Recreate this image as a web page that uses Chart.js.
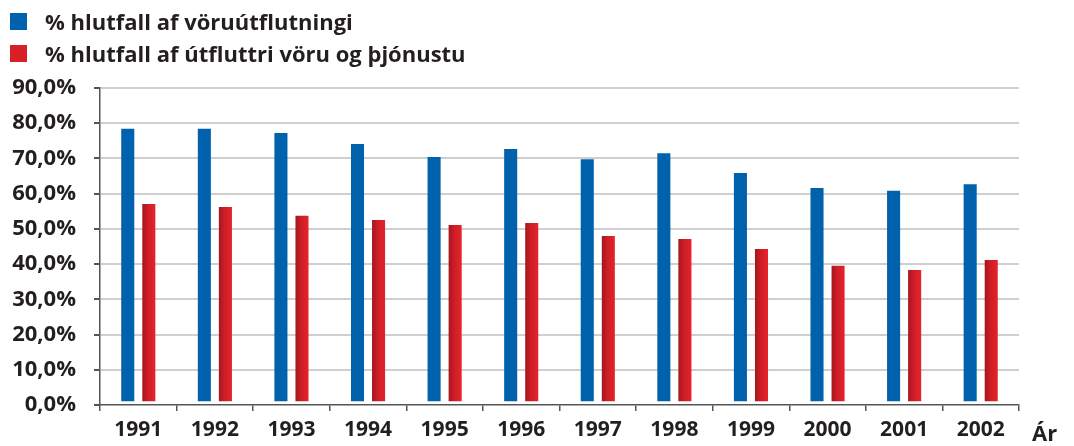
<!DOCTYPE html>
<html>
<head>
<meta charset="utf-8">
<script src="https://cdn.jsdelivr.net/npm/chart.js@4"></script>
<style>
  html, body { margin: 0; padding: 0; background: #fff; }
  #wrap { position: relative; width: 1074px; height: 446px; }
  #legend { position: absolute; left: 0; top: 0; font-family: "Open Sans", Lato, sans-serif; font-weight: 700; font-size: 22px; color: #231f20; }
  .row { position: absolute; left: 10px; height: 32px; white-space: nowrap; display: flex; align-items: center; }
  .sw { width: 17px; height: 17px; margin-right: 18px; }
  canvas { position: absolute; left: 0; top: 0; }
</style>
</head>
<body>
<div id="wrap">
  <canvas id="c" width="1074" height="446"></canvas>
  <div id="legend"></div>
</div>
<script>
const categories = ['1991','1992','1993','1994','1995','1996','1997','1998','1999','2000','2001','2002'];
const goodsShare = [78.4, 78.4, 77.2, 74.1, 70.4, 72.7, 69.8, 71.5, 65.9, 61.6, 60.8, 62.7];
const goodsServicesShare = [57.1, 56.2, 53.7, 52.5, 51.1, 51.7, 48.0, 47.1, 44.3, 39.5, 38.3, 41.2];
const seriesNames = ['% hlutfall af vöruútflutningi', '% hlutfall af útfluttri vöru og þjónustu'];
const yTicks = [0, 10, 20, 30, 40, 50, 60, 70, 80, 90];
const axisTitle = 'Ár';

const BLUE = '#0062ad';
const RED = '#d81f27';
const TEXT = '#231f20';
const FONT = '"Open Sans", Lato, sans-serif';

// HTML legend
const legend = document.getElementById('legend');
[[seriesNames[0], BLUE, 5], [seriesNames[1], RED, 37]].forEach(([t, c, top]) => {
  const r = document.createElement('div');
  r.className = 'row'; r.style.top = top + 'px';
  const s = document.createElement('div'); s.className = 'sw'; s.style.background = c;
  const sp = document.createElement('span'); sp.textContent = t;
  r.appendChild(s); r.appendChild(sp); legend.appendChild(r);
});

function redGradient(ctx) {
  const el = ctx.element;
  if (!el || el.x === undefined || !isFinite(el.x) || !el.width) return RED;
  const g = ctx.chart.ctx.createLinearGradient(el.x - el.width / 2, 0, el.x + el.width / 2, 0);
  g.addColorStop(0, '#a4161e');
  g.addColorStop(0.45, '#cf1e26');
  g.addColorStop(1, '#e6232b');
  return g;
}

const axisTitlePlugin = {
  id: 'axisTitle',
  afterDraw(chart) {
    const c = chart.ctx, xs = chart.scales.x;
    c.save();
    c.font = '700 22px ' + FONT;
    c.fillStyle = TEXT;
    c.textAlign = 'left';
    c.textBaseline = 'alphabetic';
    c.fillText(axisTitle, chart.chartArea.right + 13, xs.bottom - 5);
    c.restore();
  }
};

const chart = new Chart(document.getElementById('c'), {
  type: 'bar',
  data: {
    labels: categories,
    datasets: [
      { label: seriesNames[0], data: goodsShare, backgroundColor: BLUE, base: 1.1,
        categoryPercentage: 0.55, barPercentage: 0.62 },
      { label: seriesNames[1], data: goodsServicesShare, backgroundColor: redGradient, base: 1.1,
        categoryPercentage: 0.55, barPercentage: 0.62 }
    ]
  },
  options: {
    responsive: false,
    devicePixelRatio: 1,
    animation: false,
    layout: { padding: { top: 88, right: 55, left: 0, bottom: 0 } },
    plugins: { legend: { display: false }, tooltip: { enabled: false } },
    scales: {
      x: {
        offset: true,
        grid: { display: true, drawOnChartArea: false, drawTicks: true, tickLength: 6,
                color: '#555', lineWidth: 1.5, offset: true },
        border: { color: '#555', width: 1.5 },
        ticks: { color: TEXT, font: { family: FONT, size: 21, weight: '700' }, padding: 6 },
        afterFit(s) { s.height = 41; }
      },
      y: {
        min: 0, max: 90,
        afterBuildTicks(s) { s.ticks = yTicks.map(v => ({ value: v })); },
        grid: {
          color: (c) => (c.tick && c.tick.value === 0) ? 'rgba(0,0,0,0)' : '#cfcfcf',
          lineWidth: 2, tickColor: '#555', tickLength: 6, drawTicks: true
        },
        border: { color: '#555', width: 1.5 },
        ticks: {
          color: TEXT, font: { family: FONT, size: 22, weight: '700' }, padding: 18,
          callback: (v) => v.toFixed(1).replace('.', ',') + '%'
        },
        afterFit(s) { s.width = 100; }
      }
    }
  },
  plugins: [axisTitlePlugin]
});
chart.update('none');
</script>
</body>
</html>
